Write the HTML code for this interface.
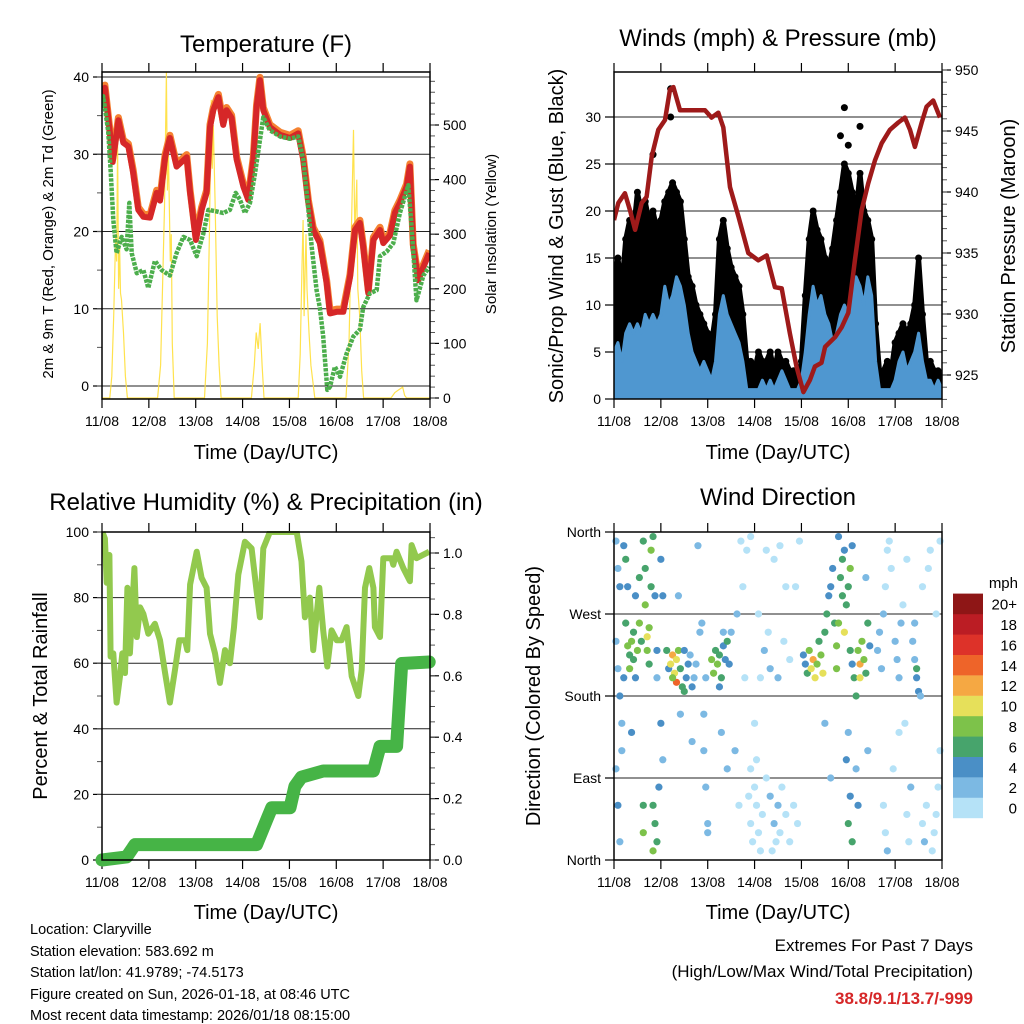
<!DOCTYPE html>
<html><head><meta charset="utf-8"><style>
html,body{margin:0;padding:0;background:#fff}
svg{display:block}
text{font-family:"Liberation Sans",sans-serif;fill:#000}
</style></head><body>
<svg id="c" width="1024" height="1024" viewBox="0 0 1024 1024">
<g id="g1"></g>
<g id="g2"></g>
<g id="g3"></g>
<g id="g4"></g>
<text x="266" y="52" font-size="24" text-anchor="middle">Temperature (F)</text>
<text x="778" y="46" font-size="24" text-anchor="middle">Winds (mph) &amp; Pressure (mb)</text>
<text x="266" y="510" font-size="24" text-anchor="middle">Relative Humidity (%) &amp; Precipitation (in)</text>
<text x="778" y="505" font-size="24" text-anchor="middle">Wind Direction</text>
<text x="266" y="459" font-size="20" text-anchor="middle">Time (Day/UTC)</text>
<text x="778" y="459" font-size="20" text-anchor="middle">Time (Day/UTC)</text>
<text x="266" y="919" font-size="20" text-anchor="middle">Time (Day/UTC)</text>
<text x="778" y="919" font-size="20" text-anchor="middle">Time (Day/UTC)</text>
<text transform="translate(53,234) rotate(-90)" font-size="15" text-anchor="middle">2m &amp; 9m T (Red, Orange) &amp; 2m Td (Green)</text>
<text transform="translate(496,234) rotate(-90)" font-size="15" text-anchor="middle">Solar Insolation (Yellow)</text>
<text transform="translate(563,236) rotate(-90)" font-size="20" text-anchor="middle">Sonic/Prop Wind &amp; Gust (Blue, Black)</text>
<text transform="translate(1015,236) rotate(-90)" font-size="20" text-anchor="middle">Station Pressure (Maroon)</text>
<text transform="translate(47,696) rotate(-90)" font-size="20" text-anchor="middle">Percent &amp; Total Rainfall</text>
<text transform="translate(540,696) rotate(-90)" font-size="20" text-anchor="middle">Direction (Colored By Speed)</text>
<g font-size="14.5">
<text x="30" y="934">Location: Claryville</text>
<text x="30" y="956">Station elevation: 583.692 m</text>
<text x="30" y="977">Station lat/lon: 41.9789; -74.5173</text>
<text x="30" y="999">Figure created on Sun, 2026-01-18, at 08:46 UTC</text>
<text x="30" y="1020">Most recent data timestamp: 2026/01/18 08:15:00</text>
</g>
<g font-size="17" text-anchor="end">
<text x="973" y="951">Extremes For Past 7 Days</text>
<text x="973" y="977">(High/Low/Max Wind/Total Precipitation)</text>
<text x="973" y="1004" font-weight="bold" style="fill:#d62728">38.8/9.1/13.7/-999</text>
</g>
</svg>
<script>
const dayLabels=["11/08","12/08","13/08","14/08","15/08","16/08","17/08","18/08"];
const tempTicks=[0,10,20,30,40];
const solarTicks=[0,100,200,300,400,500];
const windTicks=[0,5,10,15,20,25,30];
const presTicks=[925,930,935,940,945,950];
const rhTicks=[0,20,40,60,80,100];
const rainTicks=[0.0,0.2,0.4,0.6,0.8,1.0];
const dirTicks=[0,90,180,270,360];
const dirNames=["North","East","South","West","North"];
const speedBins=["0","2","4","6","8","10","12","14","16","18","20+"];
const speedColors=["#b5e2f7","#7cb9e3","#4a8fc6","#47a46c","#7dc24a","#e6e05a","#f5a843","#ee6429","#dd3229","#bb1d24","#8e1616"];

const tempHours=[0,1.5,4.1,5.5,8.4,10.9,13.5,16,18.6,21.2,24.6,28,29.7,32.3,34.8,38.2,43.4,45.1,48.1,51,53.6,55.3,57,59.6,62.1,63.8,66.4,69,72.4,74.9,77.5,79.2,80.9,82.6,86,91.2,96.3,100.5,103.1,105.7,108.2,111.6,115.1,116.8,120.2,123.6,127,129.6,132.1,133.8,136.4,139,142.4,144.1,147.5,150,152.6,156,157.7,159.4,162,164.6,167.6];
const tempVals=[36.6,38.6,32.7,29,34.4,31.5,31,27.6,22.8,21.9,21.8,25,24,29.6,32.1,28.4,29.6,25,18.9,22.8,25,33.5,35.7,37.4,33.8,35.7,34.7,29.3,25.8,24.1,29.3,36.1,39.6,35.7,33.5,32.5,32.1,32.7,29.3,23.7,20.2,18.5,13.3,9.4,9.6,9.6,14.1,20.2,21.1,18,12,18.9,20.2,18.5,19.5,22.4,23.7,25.8,28.4,18,13.7,15.4,17.2];
const dewHours=[0,0.6,3.2,4.4,5.8,7.5,10.1,12.6,14,15.2,17.8,21.2,23.7,27.1,30.6,34.8,38.2,41.7,45.1,48.5,51.9,54.5,58.7,62.1,65.5,68.5,70.7,73.2,75.8,78.4,80.9,82.6,86,91.2,96.3,100.5,103.1,105.7,107.4,109.9,111.6,113.3,115.4,116.8,119.3,121.9,125.3,128.7,132.1,133.8,137.2,140.7,142.4,145.8,149.2,152.6,156.9,158.6,161.1,164.6,167.6];
const dewVals=[36,37.5,33,28,21.5,17.2,19.3,17.7,23.7,17.2,14.6,15,12.7,16.2,15,14.3,17.2,19.3,18.9,16.8,19.7,22.8,22.6,22.4,22.8,25,24.1,22.4,23.7,27.6,31.8,34.8,33.1,32.3,32,32.3,29.3,22.8,18,12.4,10.1,6.4,-0.5,-0.1,2.5,1.2,4.2,6.4,7.3,10.2,12,12.4,16.8,17.4,18.5,22.4,26,20.6,11.1,14.3,15.4];
const solarHours=[0,4,5,6,7,7.5,8,8.5,9,9.5,10,11,12,13,28.5,30,31,32,33,33.5,34,35,35.5,36,37,52.5,54,55,56,56.5,57,58,59,60,61,76.5,78,79,80,81,82,83,100.5,101.5,102.5,103,103.5,104.5,105,106,107,109,125,126.5,128,128.8,129.5,130.5,131,132,133,134,148,150,152,154,155,156,168];
const solarVals=[0,0,40,150,300,250,467,200,280,192,180,119,40,0,0,60,200,350,597,380,450,250,300,100,0,0,100,300,546,420,500,350,150,60,0,0,60,120,90,137,60,0,0,80,250,326,150,300,200,120,60,0,0,100,350,491,300,400,200,150,50,0,0,10,15,20,5,0,0];

const presHours=[0,2.2,5.6,8.2,10.8,14.2,16.7,19.3,22.7,26.1,28.7,30.4,33.8,39.8,46.6,50,53.4,56,59.4,63.7,68.8,73.9,78.2,82.4,85.9,90.1,93.5,97,100.4,102.9,106.3,108.1,113.2,116.6,120,123.4,126.8,130.2,133.7,137.1,141.3,145.6,149,151.6,154.1,157.6,160.1,163.5,167];
const presVals=[937.7,939.1,939.9,938.5,936.9,939.1,939.6,942.9,945.1,945.9,948.4,948.6,946.7,946.7,946.7,946.1,946.5,945.3,940.4,938,935,934.4,934.8,932.2,932.1,928.4,925.7,923.6,924.6,925.7,926,927.3,928.1,928.9,930.1,934.4,938.5,940.7,942.6,944,945.1,945.7,946.1,945.1,943.7,945.7,947,947.5,946.1];
const windHours=[0,2,4,6,8,10,12,14,16,18,20,22,24,26,28,30,32,34,36,38,40,42,44,46,48,50,52,54,56,58,60,62,64,66,68,70,72,74,76,78,80,82,84,86,88,90,92,94,96,98,100,102,104,106,108,110,112,114,116,118,120,122,124,126,128,130,132,134,136,138,140,142,144,146,148,150,152,154,156,158,160,162,164,166,168];
const windVals=[5,6,4,7,8,7,8,7,9,8,9,8,9,12,10,11,13,12,10,7,5,4,3,4,3,2,4,9,11,9,8,7,6,4,1,1,1,1,2,1,2,1,2,3,2,1,1,1,2,5,9,12,10,11,9,8,6,7,9,10,9,11,13,12,10,13,11,4,1,1,1,1,2,4,5,3,4,5,7,4,2,2,1,2,1];
const gustVals=[13,15,12,17,19,18,22,20,21,19,20,18,19,21,22,23,22,21,17,13,12,10,9,8,7,6,9,17,19,16,14,13,12,9,4,4,3,5,4,4,5,3,5,4,4,3,3,2,4,11,17,20,18,17,15,14,16,19,22,25,24,22,20,24,20,19,17,8,3,3,4,3,6,7,8,7,8,10,15,9,4,4,3,3,2];
const gustOutlierHours=[29,29,118,116,120,20,126];
const gustOutlierVals=[33,30,31,28,27,26,29];

const rhHours=[0.2,1.5,2.4,3.8,4.4,5.8,7.5,9.2,10.4,11.8,13,14.3,16.6,17.8,19.5,21.2,23.7,27.1,29.7,32.3,34.8,37.4,39.6,42.5,43.7,45.1,48.5,51,53.6,55.3,57.9,60.4,63,65.5,67.6,69.8,73.2,76.6,79.2,80.9,82.6,86,99.7,102.2,103.9,106.5,108.2,111.3,113.3,115.4,117.6,120.2,122.7,125.3,127.9,131.3,133,134.7,136.9,139,139.8,142.4,144.1,148.3,149.2,150.9,154.3,157.7,158.6,161.1,167.6];
const rhVals=[100,98,84.5,93,62,63,48,56,63,57,83,63,89,68,77,75,69,72,67,57,48,58,67,67,64,84,94,86,83,69,63,54,64,60,71,87,97,95,82,74,95,100,100,91,74,80,64,83,70,59,70,67,67,71,56,50,58,83,89,83,71,68,92,92,90,94,89,85,96,92,94];
const rainHours=[0,12.6,16.9,79.2,84.3,86.9,96.3,98.8,102.2,113.3,139,142.4,150.9,153.5,167.6];
const rainVals=[0,0.01,0.05,0.05,0.13,0.17,0.17,0.24,0.27,0.29,0.29,0.37,0.37,0.64,0.645];

const dirHours=[1,2,3,1,2,1,2,3,5,6,7,6,7,8,9,8,10,10,11,12,11,13,13,14,15,16,16,17,17,18,18,19,19,20,21,22,22,20,21,22,20,15,15,4,4,9,24,25,23,24,25,3,5,
27,28,29,30,31,32,32,33,30,34,35,36,37,38,39,40,41,42,36,44,45,47,46,47,48,48,46,40,34,33,43,
50,51,52,53,54,55,56,57,58,59,56,54,60,55,58,62,64,66,68,65,63,67,
69,70,71,72,73,74,75,76,70,73,78,80,82,83,84,85,81,86,88,90,92,94,72,75,77,80,79,84,87,90,88,82,78,85,93,95,70,74,
97,98,99,100,101,102,103,104,105,106,107,108,109,110,111,112,113,114,114,115,116,117,118,118,119,120,121,122,117,115,121,122,123,124,125,126,126,127,128,129,130,129,131,120,119,121,120,122,125,124,111,108,130,
135,136,137,138,139,140,141,142,138,139,140,143,144,145,146,147,148,149,150,151,152,153,154,155,156,155,154,157,158,159,160,161,162,163,164,165,166,167,165,167,146,150,158];
const dirDeg=[350,320,300,240,210,100,60,20,345,330,300,260,235,225,240,210,250,220,200,230,290,310,260,240,350,320,280,245,230,215,255,300,340,355,290,230,200,60,40,20,10,30,60,150,120,140,150,110,80,330,290,180,200,
230,210,215,225,205,220,195,230,200,210,190,185,200,215,225,190,200,215,230,250,260,200,120,80,40,30,160,130,160,290,345,
220,205,230,215,225,200,235,220,240,215,250,190,250,140,100,120,60,300,340,350,270,200,
70,40,20,80,60,30,10,50,100,110,90,70,40,20,60,30,10,80,50,20,60,40,150,200,230,210,250,200,240,220,300,330,340,345,300,350,355,270,
225,215,205,230,210,220,200,215,240,225,205,250,270,290,300,320,260,235,210,260,310,330,340,250,280,300,320,345,290,355,230,215,200,180,230,215,200,240,220,205,260,310,235,140,110,70,40,20,60,100,90,150,120,
230,250,210,270,300,340,350,320,60,30,10,100,240,220,200,260,280,150,50,20,80,240,220,200,185,210,260,180,40,20,60,320,340,10,30,50,80,350,270,120,140,330,300];
const dirSpeed=[3,3,4,3,3,3,4,3,4,6,5,6,8,7,8,9,7,6,5,8,5,6,8,7,6,6,9,10,8,7,9,7,8,6,5,4,3,6,7,6,8,8,7,3,2,4,4,3,5,4,4,4,4,
6,5,10,12,10,11,14,9,8,6,6,6,5,4,3,4,3,3,4,2,2,3,2,2,2,3,3,2,3,3,2,
8,8,7,9,6,6,5,4,6,4,3,5,3,2,2,2,1,1,1,1,2,1,
1,0,1,1,1,0,1,1,0,1,1,2,2,1,2,1,1,1,1,1,0,1,1,0,2,3,1,2,1,1,0,0,1,0,1,1,1,0,
4,4,6,8,10,12,11,9,7,8,10,6,6,4,5,4,6,8,9,8,6,6,5,10,7,6,8,4,7,5,7,5,6,6,8,12,10,9,8,6,6,3,4,3,4,5,6,6,5,3,3,3,2,
2,3,3,2,1,1,1,1,1,1,2,1,2,3,2,2,1,1,1,1,2,3,3,4,4,6,3,3,1,2,1,1,1,1,0,1,1,1,1,1,1,0,1];

const NS='http://www.w3.org/2000/svg';
function mk(parent,tag,attrs,name){const e=document.createElementNS(NS,tag);for(const k in attrs)e.setAttribute(k,attrs[k]);


parent.appendChild(e);return e;}
function lin(d0,d1,r0,r1){return v=>r0+(v-d0)/(d1-d0)*(r1-r0);}
function pts(xs,ys,fx,fy){return xs.map((h,i)=>fx(h).toFixed(1)+','+fy(ys[i]).toFixed(1)).join(' ');}

function frame(g,L,R,T,B,fx){
  for(let i=0;i<8;i++){const x=fx(i*24);
    mk(g,'line',{x1:x,x2:x,y1:B,y2:B+9,stroke:'#000','stroke-width':1.2},'x-tick');
    mk(g,'line',{x1:x,x2:x,y1:T,y2:T-9,stroke:'#000','stroke-width':1.2},'x-tick-top');
    const t=mk(g,'text',{x:x,y:B+27,'font-size':14,'text-anchor':'middle'},'x-tick-label');t.textContent=dayLabels[i];}
}
function box(g,L,R,T,B){mk(g,'rect',{x:L,y:T,width:R-L,height:B-T,fill:'none',stroke:'#000','stroke-width':1.5},'plot-frame');}
function leftAxis(g,L,R,ticks,fy,grid,labels,minorStep,d0,d1){
  ticks.forEach((v,i)=>{const y=fy(v);
    if(grid) mk(g,'line',{x1:L,x2:R,y1:y,y2:y,stroke:'#222','stroke-width':1},'grid-line');
    mk(g,'line',{x1:L-9,x2:L,y1:y,y2:y,stroke:'#000','stroke-width':1.2},'y-tick');
    const t=mk(g,'text',{x:L-13,y:y+5,'font-size':14,'text-anchor':'end'},'y-tick-label');t.textContent=labels?labels[i]:v;});
  if(minorStep) for(let v=d0;v<=d1+1e-9;v+=minorStep){const y=fy(v);mk(g,'line',{x1:L-5,x2:L,y1:y,y2:y,stroke:'#555','stroke-width':1},'y-minor-tick');}
}
function rightAxis(g,R,ticks,fy,labels,minorStep,d0,d1){
  ticks.forEach((v,i)=>{const y=fy(v);
    mk(g,'line',{x1:R,x2:R+9,y1:y,y2:y,stroke:'#000','stroke-width':1.2},'y2-tick');
    const t=mk(g,'text',{x:R+13,y:y+5,'font-size':14},'y2-tick-label');t.textContent=labels?labels[i]:v;});
  if(minorStep) for(let v=d0;v<=d1+1e-9;v+=minorStep){const y=fy(v);mk(g,'line',{x1:R,x2:R+5,y1:y,y2:y,stroke:'#555','stroke-width':1},'y2-minor-tick');}
}

// Panel 1
(function(){const g=document.getElementById('g1');const L=102,R=430,T=72,B=399;
  const fx=lin(0,168,L,R),fy=lin(0,40,386,77),fs=lin(0,500,398,125);
  leftAxis(g,L,R,tempTicks,fy,true,null,5,0,40);
  rightAxis(g,R,solarTicks,fs,null,20,0,580);
  frame(g,L,R,T,B,fx);
  const cl=mk(g,'clipPath',{id:'cp1'},'clip');mk(cl,'rect',{x:L,y:T,width:R-L,height:B-T},'clip-rect');
  const c=mk(g,'g',{'clip-path':'url(#cp1)'},'series');
  mk(c,'polyline',{points:pts(solarHours,solarVals,fx,fs),fill:'none',stroke:'#ffdf3a','stroke-width':1.2,opacity:0.9},'solar-line');
  mk(c,'polyline',{points:pts(tempHours,tempVals.map(v=>v+0.35),fx,fy),fill:'none',stroke:'#f58231','stroke-width':7,'stroke-linejoin':'round'},'temp-9m-line');
  mk(c,'polyline',{points:pts(tempHours,tempVals,fx,fy),fill:'none',stroke:'#d62728','stroke-width':6,'stroke-linejoin':'round'},'temp-2m-line');
  mk(c,'polyline',{points:pts(dewHours,dewVals,fx,fy),fill:'none',stroke:'#4cae4c','stroke-width':4.5,'stroke-dasharray':'3.5 1.2','stroke-linejoin':'round'},'dewpoint-line');
  box(g,L,R,T,B);})();

// Panel 2
(function(){const g=document.getElementById('g2');const L=614,R=942,T=72,B=399;
  const fx=lin(0,168,L,R),fy=lin(0,30,399,117),fp=lin(925,945,375,131);
  leftAxis(g,L,R,windTicks,fy,true,null,0,0,0);
  rightAxis(g,R,presTicks,fp,null,1,923,950);
  frame(g,L,R,T,B,fx);
  const cl=mk(g,'clipPath',{id:'cp2'},'clip');mk(cl,'rect',{x:L,y:T,width:R-L,height:B-T},'clip-rect');
  const c=mk(g,'g',{'clip-path':'url(#cp2)'},'series');
  const up=windHours.map((h,i)=>fx(h).toFixed(1)+','+fy(gustVals[i]).toFixed(1)).join(' ');
  const dn=windHours.slice().reverse().map((h,k)=>{const i=windHours.length-1-k;return fx(h).toFixed(1)+','+fy(windVals[i]).toFixed(1);}).join(' ');
  mk(c,'polygon',{points:up+' '+dn,fill:'#000',stroke:'#000','stroke-width':5,'stroke-linejoin':'round'},'gust-band');
  windHours.forEach((h,i)=>{mk(c,'circle',{cx:fx(h),cy:fy(gustVals[i]),r:3.5,fill:'#000'},'gust-dot');});
  gustOutlierHours.forEach((h,i)=>{mk(c,'circle',{cx:fx(h),cy:fy(gustOutlierVals[i]),r:3.5,fill:'#000'},'gust-outlier');});
  const wup=windHours.map((h,i)=>fx(h).toFixed(1)+','+fy(windVals[i]).toFixed(1)).join(' ');
  mk(c,'polygon',{points:fx(0)+','+fy(0)+' '+wup+' '+fx(168)+','+fy(0),fill:'#4f97d0',stroke:'#4f97d0','stroke-width':3,'stroke-linejoin':'round'},'wind-band');
  mk(c,'polyline',{points:pts(presHours,presVals,fx,fp),fill:'none',stroke:'#9e1a1a','stroke-width':4.5,'stroke-linejoin':'round'},'pressure-line');
  box(g,L,R,T,B);})();

// Panel 3
(function(){const g=document.getElementById('g3');const L=102,R=430,T=532,B=860;
  const fx=lin(0,168,L,R),fy=lin(0,100,860,532),fr=lin(0,1,860,553);
  leftAxis(g,L,R,rhTicks,fy,true,null,10,0,100);
  rightAxis(g,R,rainTicks,fr,rainTicks.map(v=>v.toFixed(1)),0.05,0,1.05);
  frame(g,L,R,T,B,fx);
  mk(g,'polyline',{points:pts(rainHours,rainVals,fx,fr),fill:'none',stroke:'#46b446','stroke-width':13,'stroke-linejoin':'round','stroke-linecap':'round'},'rainfall-line');
  const cl=mk(g,'clipPath',{id:'cp3'},'clip');mk(cl,'rect',{x:L,y:T-1,width:R-L+2,height:B-T},'clip-rect');
  mk(g,'polyline',{points:pts(rhHours,rhVals,fx,fy),fill:'none',stroke:'#92c94e','stroke-width':6,'stroke-linejoin':'round','clip-path':'url(#cp3)'},'humidity-line');
  box(g,L,R,T,B);})();

// Panel 4
(function(){const g=document.getElementById('g4');const L=614,R=942,T=532,B=860;
  const fx=lin(0,168,L,R),fy=lin(0,360,860,532);
  leftAxis(g,L,R,dirTicks,fy,true,dirNames,0,0,0);
  frame(g,L,R,T,B,fx);
  dirHours.forEach((h,i)=>{const s=dirSpeed[i];const bi=Math.min(10,Math.floor(s/2));
    mk(g,'circle',{cx:fx(h),cy:fy(dirDeg[i]),r:3.6,fill:speedColors[bi]},'direction-dot');});
  box(g,L,R,T,B);
  const t=mk(g,'text',{x:1018,y:588,'font-size':15,'text-anchor':'end'},'colorbar-unit');t.textContent='mph';
  speedBins.forEach((lab,i)=>{const y=818-(i+1)*20.4;
    mk(g,'rect',{x:953,y:y,width:30,height:20.6,fill:speedColors[i]},'colorbar-box');
    const tt=mk(g,'text',{x:1017,y:y+16,'font-size':15,'text-anchor':'end'},'colorbar-label');tt.textContent=lab;});
})();
</script>
</body></html>
